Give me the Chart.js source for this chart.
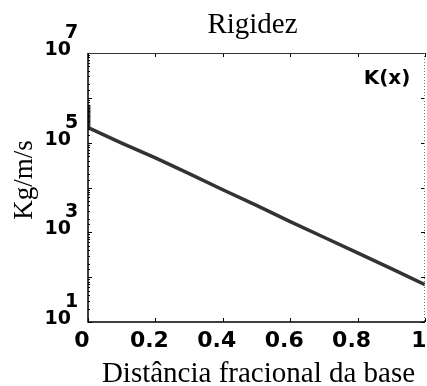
<!DOCTYPE html>
<html><head><meta charset="utf-8">
<script src="https://cdn.jsdelivr.net/npm/chart.js@4/dist/chart.umd.min.js"></script>
<style>html,body{margin:0;padding:0;background:#fff;}#wrap{width:427px;height:386px;}</style>
</head><body><div id="wrap"><canvas id="c" width="427" height="386"></canvas></div>
<script>
const titleText = "Rigidez";
const xTitle = "Distância fracional da base";
const yTitle = "Kg/m/s";
const seriesLabel = "K(x)";
const xPositions = [0, 0.002, 0.1, 0.2, 0.3, 0.4, 0.5, 0.6, 0.7, 0.8, 0.9, 1.0];
const kValues = [700000, 214000, 98000, 45700, 20400, 8900, 3980, 1740, 776, 347, 155, 68];
const xTickValues = [0, 0.2, 0.4, 0.6, 0.8, 1];
const xTickLabels = ["0", "0.2", "0.4", "0.6", "0.8", "1"];
const yTickBases = ["10", "10", "10", "10"];
const yTickExps = ["1", "3", "5", "7"];
const yTickValues = [10, 1000, 100000, 10000000];
const yMajorValues = [10, 100, 1000, 10000, 100000, 1000000, 10000000];

const pts = xPositions.map((x, i) => ({x: x, y: kValues[i]}));
const SANS = '"DejaVu Sans", Verdana, sans-serif';
const SERIF = '"Liberation Serif", "Times New Roman", serif';

const deco = {
  id: 'deco',
  afterDraw(chart) {
    const ctx = chart.ctx, a = chart.chartArea;
    const xs = chart.scales.x, ys = chart.scales.y;
    ctx.save();
    // inward ticks
    ctx.strokeStyle = '#000'; ctx.lineWidth = 1;
    ys.ticks.forEach(t => {
      const y = Math.round(ys.getPixelForValue(t.value)) + 0.5;
      const major = yMajorValues.includes(t.value);
      const len = major ? 4 : 2;
      ctx.beginPath(); ctx.moveTo(a.left, y); ctx.lineTo(a.left + len, y); ctx.stroke();
      if (major) { ctx.beginPath(); ctx.moveTo(a.right, y); ctx.lineTo(a.right - len, y); ctx.stroke(); }
    });
    xTickValues.forEach(v => {
      const x = Math.round(xs.getPixelForValue(v)) + 0.5;
      ctx.beginPath(); ctx.moveTo(x, a.bottom); ctx.lineTo(x, a.bottom - 4); ctx.stroke();
      ctx.beginPath(); ctx.moveTo(x, a.top); ctx.lineTo(x, a.top + 4); ctx.stroke();
    });
    // borders
    ctx.strokeStyle = '#000'; ctx.lineWidth = 1.5;
    ctx.beginPath(); ctx.moveTo(a.left, a.top); ctx.lineTo(a.left, a.bottom); ctx.lineTo(a.right, a.bottom); ctx.stroke();
    ctx.lineWidth = 1; ctx.strokeStyle = '#333';
    ctx.beginPath(); ctx.moveTo(a.left, a.top + 0.5); ctx.lineTo(a.right, a.top + 0.5); ctx.stroke();
    ctx.setLineDash([1, 2]); ctx.strokeStyle = '#777';
    ctx.beginPath(); ctx.moveTo(a.right - 0.5, a.top); ctx.lineTo(a.right - 0.5, a.bottom); ctx.stroke();
    ctx.setLineDash([]);
    // y tick labels
    ctx.fillStyle = '#000';
    ctx.font = 'bold 19px ' + SANS;
    ctx.textBaseline = 'alphabetic';
    yTickValues.forEach((v, i) => {
      const y = ys.getPixelForValue(v);
      ctx.textAlign = 'right';
      ctx.fillText(yTickBases[i], 71, y + 2);
      ctx.textAlign = 'left';
      ctx.fillText(yTickExps[i], 65, y - 15);
    });
    // title and axis titles
    ctx.font = '29px ' + SERIF;
    ctx.textAlign = 'center'; ctx.textBaseline = 'alphabetic';
    ctx.fillText(titleText, (a.left + a.right) / 2 - 4, 33);
    ctx.fillText(xTitle, (a.left + a.right) / 2 + 2, 382);
    ctx.save();
    ctx.font = '27px ' + SERIF;
    ctx.translate(32, 180); ctx.rotate(-Math.PI / 2);
    ctx.fillText(yTitle, 0, 0);
    ctx.restore();
    // series label
    ctx.font = 'bold 20px ' + SANS;
    ctx.textAlign = 'center'; ctx.textBaseline = 'middle';
    ctx.fillText(seriesLabel, 387, 79);
    ctx.restore();
  }
};

new Chart(document.getElementById('c'), {
  type: 'line',
  data: { datasets: [{ label: seriesLabel, data: pts, borderColor: '#333333', borderWidth: 3.5, pointRadius: 0, tension: 0, fill: false }] },
  options: {
    responsive: false, animation: false, devicePixelRatio: 1,
    layout: { padding: { top: 53, right: 2, left: 0, bottom: 0 } },
    plugins: { legend: { display: false }, title: { display: false }, tooltip: { enabled: false } },
    scales: {
      x: {
        type: 'linear', min: 0, max: 1,
        afterFit(s) { s.height = 64; s.paddingLeft = 0; s.paddingRight = 0; },
        afterBuildTicks(s) { s.ticks = xTickValues.map(v => ({value: v})); },
        grid: { display: false, drawTicks: false },
        border: { display: false },
        ticks: { color: '#000', padding: 6, labelOffset: -6, maxRotation: 0, autoSkip: false,
          font: { family: SANS, size: 22, weight: 'bold' },
          callback: (v, i) => xTickLabels[i] }
      },
      y: {
        type: 'logarithmic', min: 10, max: 10000000,
        afterFit(s) { s.width = 88; s.paddingTop = 0; s.paddingBottom = 0; },
        grid: { display: false, drawTicks: false },
        border: { display: false },
        ticks: { display: false, autoSkip: false }
      }
    }
  },
  plugins: [deco]
});
</script></body></html>
